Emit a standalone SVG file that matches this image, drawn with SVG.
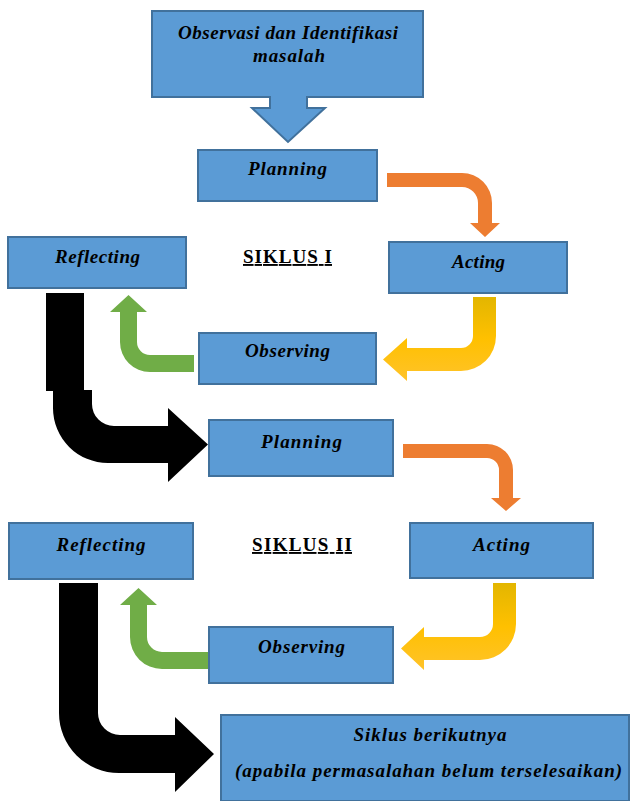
<svg xmlns="http://www.w3.org/2000/svg" width="631" height="801" viewBox="0 0 631 801">
<style>
.box{fill:#5B9BD5;stroke:#41719C;stroke-width:2}
.lbl{font-family:"Liberation Serif","Times New Roman",serif;font-weight:bold;font-style:italic;font-size:19px;fill:#000;text-anchor:middle}
.cyc{font-family:"Liberation Serif","Times New Roman",serif;font-weight:bold;font-size:19px;fill:#000;text-anchor:middle;text-decoration:underline}
.org{fill:#ED7D31}
.grn{fill:#70AD47}
.blk{fill:#000}
.yel{fill:url(#yg)}
</style>
<defs>
<linearGradient id="yg" x1="0" y1="0" x2="0" y2="1">
<stop offset="0" stop-color="#E3B600"/>
<stop offset="0.5" stop-color="#FFC000"/>
<stop offset="1" stop-color="#FFC32A"/>
</linearGradient>
</defs>
<rect width="631" height="801" fill="#fff"/>

<g id="connectors">
<path class="org" d="M387,173 H462 A30,30 0 0 1 492,203 V223 H500 L485,237 L470,223 H478 V203 A16,16 0 0 0 462,187 H387 Z"/>
<path class="yel" d="M473,297 H496 V336 A35,35 0 0 1 461,371 H407 V381 L383,359.5 L407,338 V348 H461 A12,12 0 0 0 473,336 Z"/>
<path class="grn" d="M194,355 V372 H150 A30,30 0 0 1 120,342 V312 H110 L128.5,295 L147,312 H137 V342 A13,13 0 0 0 150,355 Z"/>
<rect class="blk" x="46" y="293" width="38" height="98"/>
<path class="blk" d="M53,390 H92 V404 A22,22 0 0 0 114,426 H168 V408 L208,444.5 L168,482 V463 H108 A55,55 0 0 1 53,408 Z"/>
<path class="org" d="M403,444 H487 A26,26 0 0 1 513,470 V498 H521 L506,511 L491,498 H499 V470 A12,12 0 0 0 487,458 H403 Z"/>
<path class="yel" d="M493,583 H516 V624 A36,36 0 0 1 480,660 H424 V670 L401,648.5 L424,627 V637 H480 A13,13 0 0 0 493,624 Z"/>
<path class="grn" d="M208,652 V669 H162 A32,32 0 0 1 130,637 V605 H120 L138.5,588 L157,605 H147 V637 A15,15 0 0 0 162,652 Z"/>
<path class="blk" d="M59,583 H98 V713 A22,22 0 0 0 120,735 H175 V717 L214,754 L175,792 V773 H119 A60,60 0 0 1 59,713 Z"/>
</g>

<g id="observasi">
<path class="box" d="M152,11 H423 V97 H307 V108 H325 L288,142 L252,108 H270 V97 H152 Z"/>
<text class="lbl" x="288" y="39" textLength="220" lengthAdjust="spacing">Observasi dan Identifikasi</text>
<text class="lbl" x="289" y="62" textLength="72" lengthAdjust="spacing">masalah</text>
</g>

<g id="planning1">
<rect class="box" x="198" y="150" width="179" height="51"/>
<text class="lbl" x="287.5" y="175" textLength="79" lengthAdjust="spacing">Planning</text>
</g>
<g id="acting1">
<rect class="box" x="389" y="242" width="178" height="51"/>
<text class="lbl" x="478.5" y="268" textLength="53" lengthAdjust="spacing">Acting</text>
</g>
<g id="reflecting1">
<rect class="box" x="8" y="237" width="178" height="51"/>
<text class="lbl" x="97.5" y="263" textLength="85" lengthAdjust="spacing">Reflecting</text>
</g>
<g id="siklus1">
<text class="cyc" x="287.5" y="263" textLength="89" lengthAdjust="spacing">SIKLUS I</text>
</g>
<g id="observing1">
<rect class="box" x="199" y="333" width="177" height="51"/>
<text class="lbl" x="287.5" y="357" textLength="85" lengthAdjust="spacing">Observing</text>
</g>

<g id="planning2">
<rect class="box" x="209" y="420" width="184" height="56"/>
<text class="lbl" x="301.5" y="448" textLength="81" lengthAdjust="spacing">Planning</text>
</g>
<g id="acting2">
<rect class="box" x="410" y="523" width="183" height="55"/>
<text class="lbl" x="501.5" y="551" textLength="57" lengthAdjust="spacing">Acting</text>
</g>
<g id="reflecting2">
<rect class="box" x="9" y="523" width="184" height="56"/>
<text class="lbl" x="101" y="551" textLength="89" lengthAdjust="spacing">Reflecting</text>
</g>
<g id="siklus2">
<text class="cyc" x="302" y="551" textLength="100" lengthAdjust="spacing">SIKLUS II</text>
</g>
<g id="observing2">
<rect class="box" x="209" y="627" width="184" height="56"/>
<text class="lbl" x="301.5" y="653" textLength="87" lengthAdjust="spacing">Observing</text>
</g>

<g id="siklus-berikutnya">
<rect class="box" x="221" y="715" width="408" height="86"/>
<text class="lbl" x="430" y="741" textLength="153" lengthAdjust="spacing">Siklus berikutnya</text>
<text class="lbl" x="428.5" y="777" textLength="387" lengthAdjust="spacing">(apabila permasalahan belum terselesaikan)</text>
</g>
</svg>
